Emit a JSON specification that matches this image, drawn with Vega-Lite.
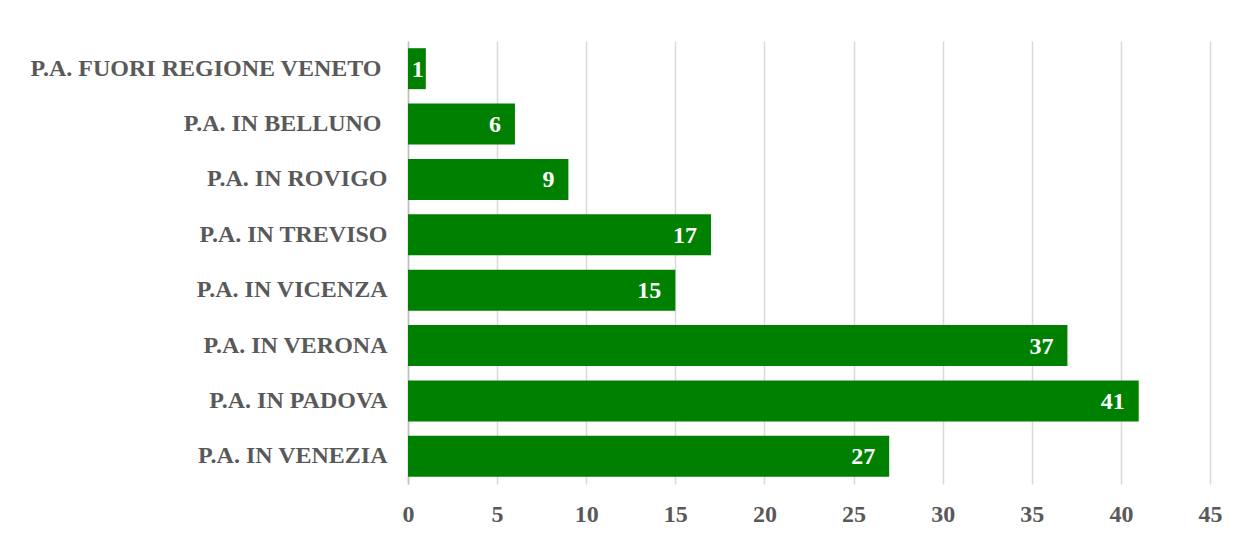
{
  "$schema": "https://vega.github.io/schema/vega-lite/v6.json",
  "autosize": {"type": "none"},
  "width": 802,
  "height": 443,
  "padding": {"left": 408, "top": 41, "right": 29, "bottom": 51},
  "background": "#ffffff",
  "config": {
    "view": {"stroke": null},
    "font": "Liberation Serif"
  },
  "data": {
    "values": [
      {"ente": "P.A. FUORI REGIONE VENETO", "valore": 1},
      {"ente": "P.A. IN BELLUNO", "valore": 6},
      {"ente": "P.A. IN ROVIGO", "valore": 9},
      {"ente": "P.A. IN TREVISO", "valore": 17},
      {"ente": "P.A. IN VICENZA", "valore": 15},
      {"ente": "P.A. IN VERONA", "valore": 37},
      {"ente": "P.A. IN PADOVA", "valore": 41},
      {"ente": "P.A. IN VENEZIA", "valore": 27}
    ]
  },
  "encoding": {
    "y": {
      "field": "ente",
      "type": "nominal",
      "sort": null,
      "scale": {"paddingInner": 0.26, "paddingOuter": 0.13},
      "axis": {
        "title": null,
        "ticks": false,
        "domain": true,
        "domainColor": "#bfbfbf",
        "domainWidth": 1.5,
        "labelFont": "Liberation Serif",
        "labelFontSize": 24,
        "labelFontWeight": "bold",
        "labelColor": "#595959",
        "labelPadding": 21,
        "labelLimit": 500,
        "labelExpr": "(datum.value == 'P.A. FUORI REGIONE VENETO' || datum.value == 'P.A. IN BELLUNO') ? datum.label + '\u00a0\u200b' : datum.label"
      }
    },
    "x": {
      "field": "valore",
      "type": "quantitative",
      "scale": {"domain": [0, 45], "nice": false},
      "axis": {
        "title": null,
        "values": [0, 5, 10, 15, 20, 25, 30, 35, 40, 45],
        "ticks": false,
        "domain": false,
        "grid": true,
        "gridColor": "#d9d9d9",
        "gridWidth": 1.5,
        "labelFont": "Liberation Serif",
        "labelFontSize": 24,
        "labelFontWeight": "bold",
        "labelColor": "#595959",
        "labelPadding": 18,
        "labelFlush": false
      }
    }
  },
  "layer": [
    {"mark": {"type": "bar", "color": "#008000"}},
    {
      "transform": [{"filter": "datum.valore >= 3"}],
      "mark": {
        "type": "text",
        "align": "right",
        "baseline": "middle",
        "dx": -14,
        "dy": 1,
        "color": "#ffffff",
        "font": "Liberation Serif",
        "fontSize": 24,
        "fontWeight": "bold"
      },
      "encoding": {"text": {"field": "valore", "type": "quantitative"}}
    },
    {
      "transform": [{"filter": "datum.valore < 3"}],
      "mark": {
        "type": "text",
        "align": "right",
        "baseline": "middle",
        "dx": -2,
        "dy": 1,
        "color": "#ffffff",
        "font": "Liberation Serif",
        "fontSize": 24,
        "fontWeight": "bold"
      },
      "encoding": {"text": {"field": "valore", "type": "quantitative"}}
    }
  ]
}
